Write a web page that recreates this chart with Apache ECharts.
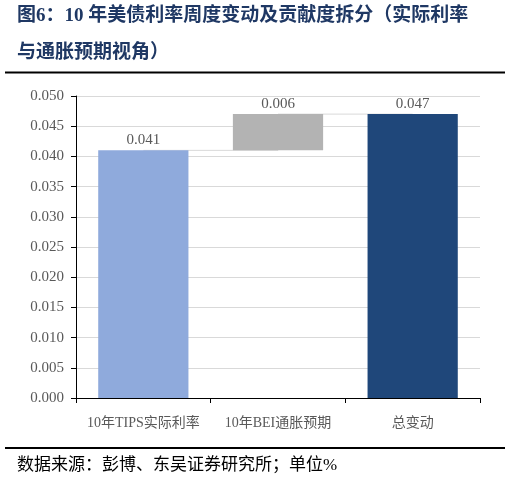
<!DOCTYPE html>
<html>
<head>
<meta charset="utf-8">
<script src="https://cdn.jsdelivr.net/npm/echarts@6/dist/echarts.min.js"></script>
<style>
html,body{margin:0;padding:0;background:#fff;}
#c{width:510px;height:481px;}
</style>
</head>
<body>
<div id="c"></div>
<script>
const titleLines = ['图6：10 年美债利率周度变动及贡献度拆分（实际利率', '与通胀预期视角）'];
const sourceText = '数据来源：彭博、东吴证券研究所；单位%';
const categories = ['10年TIPS实际利率', '10年BEI通胀预期', '总变动'];
const changeValues = [0.041, 0.006, 0.047];
const baseValues = [0, 0.041, 0];
const connectorLevels = [0.041, 0.047, 0.047];
const barColors = ['#8FAADC', '#B3B3B3', '#1F477A'];
const yTicks = { min: 0, max: 0.05, interval: 0.005 };

const serif = '"Liberation Serif", "Times New Roman", "Noto Sans CJK SC", serif';
const chart = echarts.init(document.getElementById('c'));
chart.setOption({
  animation: false,
  backgroundColor: '#fff',
  grid: { left: 76, right: 30, top: 96, bottom: 83 },
  graphic: [
    { type: 'text', left: 17, top: 7, style: { text: titleLines[0], font: 'bold 19px ' + serif, fill: '#1F3864' } },
    { type: 'text', left: 17, top: 44, style: { text: titleLines[1], font: 'bold 19px ' + serif, fill: '#1F3864' } },
    { type: 'line', shape: { x1: 5, y1: 72.5, x2: 505, y2: 72.5 }, style: { stroke: '#000', lineWidth: 2 } },
    { type: 'line', shape: { x1: 5, y1: 448, x2: 505, y2: 448 }, style: { stroke: '#000', lineWidth: 2 } },
    { type: 'text', left: 17, top: 457, style: { text: sourceText, font: '17px ' + serif, fill: '#000' } }
  ],
  xAxis: {
    type: 'category',
    data: categories,
    axisLine: { lineStyle: { color: '#000', width: 1 } },
    axisTick: { show: true, length: 5, lineStyle: { color: '#000' } },
    axisLabel: { interval: 0, hideOverlap: false, color: '#595959', fontSize: 14, fontFamily: serif, margin: 18 }
  },
  yAxis: {
    type: 'value',
    min: yTicks.min, max: yTicks.max, interval: yTicks.interval,
    axisLine: { show: true, lineStyle: { color: '#000', width: 1 } },
    axisTick: { show: true, length: 5, lineStyle: { color: '#000' } },
    axisLabel: { color: '#595959', fontSize: 15, fontFamily: serif, margin: 12, formatter: v => v.toFixed(3) },
    splitLine: { lineStyle: { color: '#D9D9D9', width: 1 } }
  },
  series: [
    {
      type: 'line', step: 'end', data: connectorLevels, symbol: 'none', z: 1,
      lineStyle: { color: '#D9D9D9', width: 1 }, silent: true
    },
    {
      type: 'bar', stack: 'w', data: baseValues, barCategoryGap: '33%', z: 2,
      itemStyle: { color: 'transparent' }, silent: true
    },
    {
      type: 'bar', stack: 'w', z: 2,
      data: changeValues.map((v, i) => ({ value: v, itemStyle: { color: barColors[i] } })),
      label: { show: true, position: 'top', color: '#595959', fontSize: 15, fontFamily: serif, distance: 3, formatter: p => p.value.toFixed(3) }
    }
  ]
});
</script>
</body>
</html>
